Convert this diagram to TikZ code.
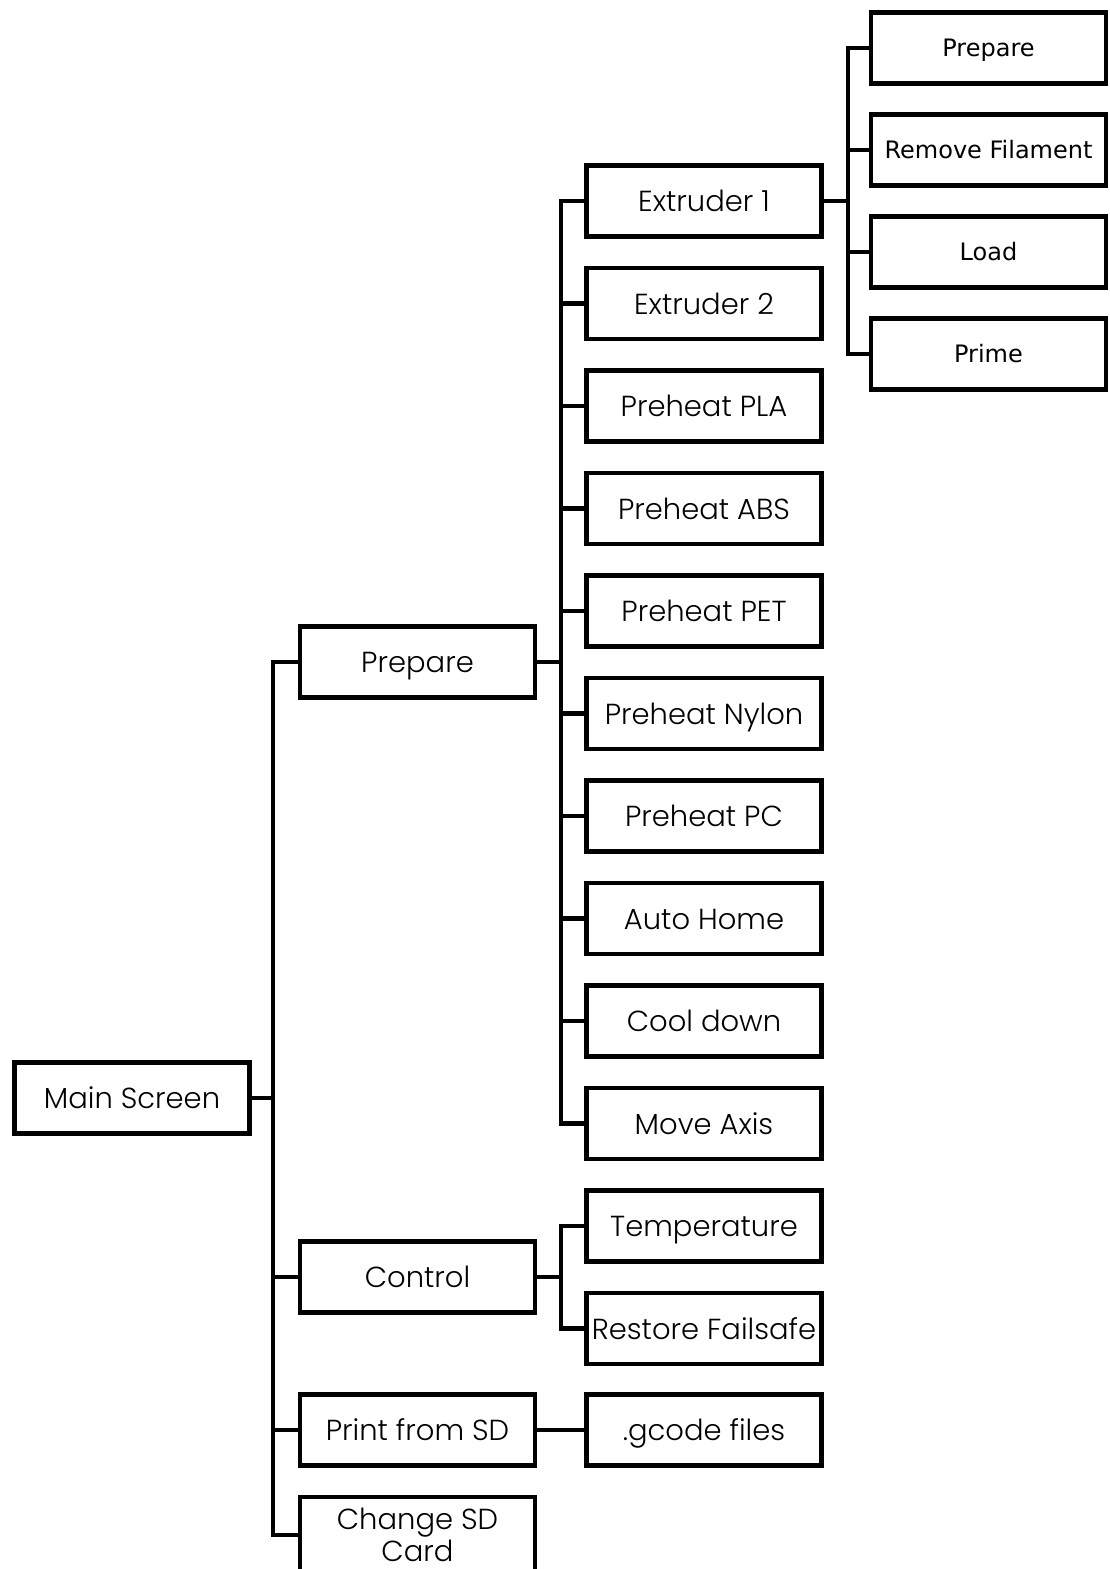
\documentclass[tikz,border=0pt]{standalone}
\usepackage{fontspec}
\setmainfont{Poppins Light}
\newfontfamily\subfont{DejaVu Sans}
\begin{document}
\begin{tikzpicture}[x=1pt,y=-1pt,
  boxbase/.style={draw=black, line width=4.5pt, minimum width=235pt, minimum height=71pt,
    inner sep=0pt, align=center, font=\fontsize{29}{32}\selectfont},
  menubox/.style={boxbase, text height=24pt, text depth=3pt},
  subbox/.style={boxbase, text height=19pt, text depth=3pt,
    font=\subfont\fontsize{24}{28}\selectfont},
  link/.style={draw=black, line width=4.5pt, line join=miter, line cap=rect}]
\useasboundingbox (0,0) rectangle (1110,1569);
\clip (0,0) rectangle (1110,1569);
\fill[white] (0,0) rectangle (1110,1569);

% branch rails
\coordinate (r1) at (273,0);
\coordinate (r2) at (561,0);
\coordinate (r3) at (848,0);

% root
\node[menubox] (main) at (132,1098) {Main Screen};

% first level
\node[menubox] (prep) at (417.5,662) {Prepare};
\node[menubox] (ctrl) at (417.5,1277) {Control};
\node[menubox] (psd) at (417.5,1430) {Print from SD};
\node[boxbase, minimum height=76pt] (csd) at (417.5,1535) {Change SD\\Card};

% Prepare submenu
\node[menubox] (ex1) at (704,201) {Extruder 1};
\node[menubox] (ex2) at (704,303.5) {Extruder 2};
\node[menubox] (pla) at (704,406) {Preheat PLA};
\node[menubox] (abs) at (704,508.5) {Preheat ABS};
\node[menubox] (pet) at (704,611) {Preheat PET};
\node[menubox] (nyl) at (704,713.5) {Preheat Nylon};
\node[menubox] (pc) at (704,816) {Preheat PC};
\node[menubox] (home) at (704,918.5) {Auto Home};
\node[menubox] (cool) at (704,1021) {Cool down};
\node[menubox] (move) at (704,1123.5) {Move Axis};

% Control submenu
\node[menubox] (temp) at (704,1226) {Temperature};
\node[menubox] (rest) at (704,1328.5) {Restore Failsafe};

% Print from SD submenu
\node[menubox] (gc) at (704,1430) {.gcode files};

% Extruder 1 submenu
\node[subbox] (sprep) at (988.5,48) {Prepare};
\node[subbox] (rem) at (988.5,150) {Remove Filament};
\node[subbox] (load) at (988.5,252) {Load};
\node[subbox] (prime) at (988.5,354) {Prime};

% connectors
\foreach \c in {prep,ctrl,psd,csd}
  \draw[link] (main.east) -- (main.east -| r1) |- (\c.west);
\foreach \c in {ex1,ex2,pla,abs,pet,nyl,pc,home,cool,move}
  \draw[link] (prep.east) -- (prep.east -| r2) |- (\c.west);
\foreach \c in {temp,rest}
  \draw[link] (ctrl.east) -- (ctrl.east -| r2) |- (\c.west);
\draw[link] (psd.east) -- (gc.west);
\foreach \c in {sprep,rem,load,prime}
  \draw[link] (ex1.east) -- (ex1.east -| r3) |- (\c.west);
\end{tikzpicture}
\end{document}
